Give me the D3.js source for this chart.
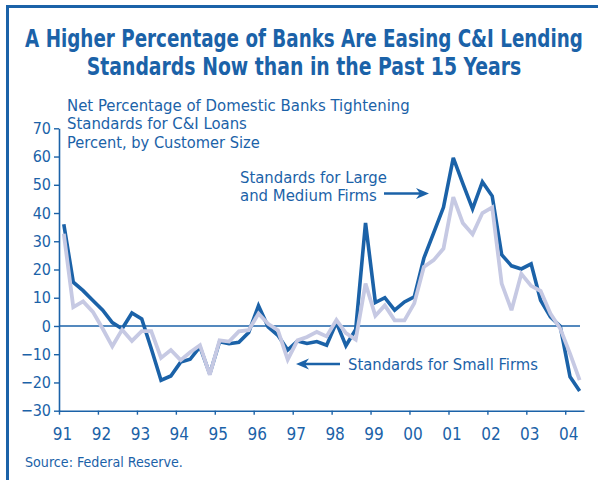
<!DOCTYPE html>
<html>
<head>
<meta charset="utf-8">
<script src="https://cdn.jsdelivr.net/npm/d3@7"></script>
<style>
  html, body { margin: 0; padding: 0; background: #ffffff; }
  svg { display: block; }
</style>
</head>
<body>
<svg id="chart" width="598" height="480"></svg>
<script>
// Senior loan officer survey dates (year-month of each survey)
const surveyDates = [
  "1991-02","1991-05","1991-08","1991-11","1992-02","1992-05","1992-08","1992-11",
  "1993-02","1993-05","1993-08","1993-11","1994-02","1994-05","1994-08","1994-11",
  "1995-02","1995-05","1995-08","1995-11","1996-02","1996-05","1996-08","1996-11",
  "1997-02","1997-05","1997-08","1997-11","1998-02","1998-05","1998-08","1998-11",
  "1999-02","1999-05","1999-08","1999-11","2000-02","2000-05","2000-08","2000-11",
  "2001-02","2001-05","2001-08","2001-11","2002-02","2002-05","2002-08","2002-11",
  "2003-02","2003-05","2003-08","2003-11","2004-02","2004-05"
];

// Net percentage of banks tightening, large and medium firms
const largeMediumFirms = [
  36, 15.5, 12.5, 9, 5.6, 1.2, -1, 4.6, 2.5, -8,
  -19.2, -17.7, -12.8, -11.8, -7.4, -17, -5.6, -6.3, -5.8, -2.3,
  7.2, -0.3, -3.3, -8.5, -5.3, -6.2, -5.5, -6.8, 1.2, -7,
  -1.2, 36.5, 8.3, 10, 5.6, 8.5, 10.3, 24, 33, 42,
  59.5, 50.5, 41.5, 51, 46, 25.2, 21.3, 20.2, 22, 9.1,
  3.2, -0.1, -18, -23
];

// Net percentage of banks tightening, small firms
const smallFirms = [
  32.7, 6.7, 8.7, 5, -1, -7.2, -1.3, -5.3, -1.8, -1.8,
  -11.3, -8.5, -12.1, -9.3, -6.8, -17.3, -5.1, -5.5, -1.9, -1.5,
  4.4, 0.8, -1.5, -11.9, -5.1, -3.9, -2.1, -3.7, 2.1, -2.5,
  -4.8, 15, 3.6, 7.3, 2, 2, 8, 20.9, 23.3, 27.4,
  45.6, 36.5, 32.5, 40, 42, 15, 5.6, 18.5, 14.2, 12.4,
  4.4, -0.9, -9.8, -19.2
];

const yearTicks = [1991,1992,1993,1994,1995,1996,1997,1998,1999,2000,2001,2002,2003,2004];
const valueTicks = [-30,-20,-10,0,10,20,30,40,50,60,70];

const titleLines = [
  "A Higher Percentage of Banks Are Easing C&I Lending",
  "Standards Now than in the Past 15 Years"
];
const subtitleLines = [
  "Net Percentage of Domestic Banks Tightening",
  "Standards for C&I Loans",
  "Percent, by Customer Size"
];

const BLUE = "#1b62a8";
const LAVENDER = "#c6c9e3";
const FONT = "'Liberation Sans Narrow','DejaVu Sans Condensed','Arial Narrow','Roboto',sans-serif";

const svg = d3.select("#chart");
const parseMonth = d3.timeParse("%Y-%m");
const dates = surveyDates.map(s => d3.timeDay.offset(parseMonth(s), 14));

const plot = { left: 59, right: 584, top: 128.3, bottom: 410.7 };

const x = d3.scaleTime()
  .domain([new Date(1991, 0, 1), new Date(2004, 5, 25)])
  .range([plot.left, plot.right]);
const y = d3.scaleLinear()
  .domain([-30, 70])
  .range([plot.bottom, plot.top]);

// Frame: top and left rules
svg.append("line").attr("x1", 7.5).attr("x2", 598).attr("y1", 6.5).attr("y2", 6.5)
  .attr("stroke", BLUE).attr("stroke-width", 3);
svg.append("line").attr("x1", 7.5).attr("x2", 7.5).attr("y1", 5).attr("y2", 480)
  .attr("stroke", BLUE).attr("stroke-width", 3);

// Place a text at (px, py) and squeeze/stretch it horizontally to the given width.
// anchor: "start" or "middle"
function fittedText(str, px, py, width, size, weight, anchor) {
  const t = svg.append("text")
    .attr("font-family", FONT).attr("font-size", size)
    .attr("font-weight", weight || "normal")
    .attr("fill", BLUE)
    .attr("text-anchor", anchor || "start")
    .text(str);
  const natural = t.node().getComputedTextLength();
  const sx = natural > 0 ? width / natural : 1;
  t.attr("transform", `translate(${px},${py}) scale(${sx},1)`);
  return t;
}

// Title
const titleWidths = [558, 435];
titleLines.forEach((t, i) => fittedText(t, 304, 47 + i * 27.5, titleWidths[i], 24.5, "bold", "middle"));

// Subtitle block
const subWidths = [343, 180, 193];
subtitleLines.forEach((t, i) => fittedText(t, 67, 111 + i * 18.3, subWidths[i], 16.5));

// Axes
const yAxis = d3.axisLeft(y).tickValues(valueTicks).tickSize(5).tickPadding(3).tickSizeOuter(0);
const gy = svg.append("g").attr("transform", `translate(${plot.left},0)`).call(yAxis);
gy.select(".domain").attr("stroke", BLUE).attr("stroke-width", 1.6);
gy.selectAll(".tick line").attr("stroke", BLUE).attr("stroke-width", 1.4);
gy.selectAll(".tick text")
  .attr("fill", BLUE).attr("font-family", FONT).attr("font-size", 16);

const xAxis = d3.axisBottom(x)
  .tickValues(yearTicks.map(yr => new Date(yr, 0, 1)))
  .tickFormat(d3.timeFormat("%y"))
  .tickSize(4).tickPadding(13).tickSizeOuter(0);
const gx = svg.append("g").attr("transform", `translate(0,${plot.bottom})`).call(xAxis);
gx.select(".domain").attr("stroke", BLUE).attr("stroke-width", 1.6);
gx.selectAll(".tick line").attr("stroke", BLUE).attr("stroke-width", 1.4);
gx.selectAll(".tick text")
  .attr("fill", BLUE).attr("font-family", FONT).attr("font-size", 17)
  .attr("dx", 3);

// Zero reference line
svg.append("line")
  .attr("x1", plot.left).attr("x2", 580)
  .attr("y1", y(0)).attr("y2", y(0))
  .attr("stroke", BLUE).attr("stroke-width", 1.3);

// Series lines
const line = d3.line()
  .x((d, i) => x(dates[i]))
  .y(d => y(d));

svg.append("path").datum(largeMediumFirms)
  .attr("d", line)
  .attr("fill", "none").attr("stroke", BLUE)
  .attr("stroke-width", 3.6).attr("stroke-linejoin", "miter").attr("stroke-miterlimit", 3);

svg.append("path").datum(smallFirms)
  .attr("d", line)
  .attr("fill", "none").attr("stroke", LAVENDER)
  .attr("stroke-width", 3.8).attr("stroke-linejoin", "miter").attr("stroke-miterlimit", 3);

// Pointer arrow with a barbed head
function arrow(x1, x2, yy) {
  const dir = Math.sign(x2 - x1);
  svg.append("line")
    .attr("x1", x1).attr("x2", x2 - dir * 6).attr("y1", yy).attr("y2", yy)
    .attr("stroke", BLUE).attr("stroke-width", 2.4);
  const b = x2 - dir * 13, n = x2 - dir * 9;
  svg.append("path")
    .attr("d", `M${x2},${yy} L${b},${yy - 5.5} L${n},${yy} L${b},${yy + 5.5} Z`)
    .attr("fill", BLUE);
}

// Series annotations
const largeLabel = ["Standards for Large", "and Medium Firms"];
const largeWidths = [147, 137];
largeLabel.forEach((t, i) => fittedText(t, 240, 183 + i * 18, largeWidths[i], 16.5));
arrow(384, 429, 193.5);

fittedText("Standards for Small Firms", 348, 369.5, 190, 16.5);
arrow(340, 296, 364);

// Source note
fittedText("Source: Federal Reserve.", 25, 467, 158, 14);
</script>
</body>
</html>
